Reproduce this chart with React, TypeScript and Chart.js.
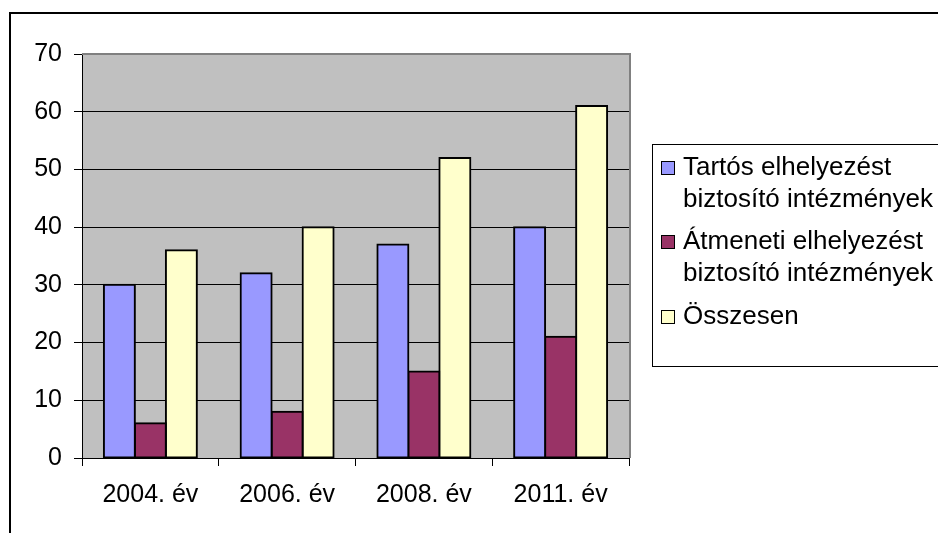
import React, { useEffect, useRef } from 'react';
import { Chart, registerables } from 'chart.js';

Chart.register(...registerables);

const categories = ['2004. év', '2006. év', '2008. év', '2011. év'];
const tartos = [30, 32, 37, 40];
const atmeneti = [6, 8, 15, 21];
const osszesen = [36, 40, 52, 61];
const seriesLines = [
  ['Tartós elhelyezést', 'biztosító intézmények'],
  ['Átmeneti elhelyezést', 'biztosító intézmények'],
  ['Összesen'],
];
const seriesColors = ['#9999FF', '#993366', '#FFFFCC'];
const yMin = 0;
const yMax = 70;
const yStep = 10;

const FONT = '"Liberation Sans", Arial, sans-serif';
const W = 938;
const H = 533;

const framePlugin = {
  id: 'frame',
  beforeDraw(chart: any) {
    const { ctx, chartArea: a } = chart;
    ctx.save();
    ctx.fillStyle = '#ffffff';
    ctx.fillRect(0, 0, chart.width, chart.height);
    ctx.fillStyle = '#C0C0C0';
    ctx.fillRect(a.left, a.top, a.right - a.left, a.bottom - a.top);
    ctx.strokeStyle = '#000000';
    ctx.lineWidth = 2;
    ctx.beginPath();
    ctx.moveTo(10, chart.height + 5);
    ctx.lineTo(10, 13);
    ctx.lineTo(chart.width + 5, 13);
    ctx.stroke();
    ctx.restore();
  },
  afterDraw(chart: any) {
    const { ctx, chartArea: a } = chart;
    ctx.save();
    // plot-area border (top / right)
    ctx.strokeStyle = '#808080';
    ctx.lineWidth = 2;
    ctx.beginPath();
    ctx.moveTo(a.left, a.top);
    ctx.lineTo(a.right + 1, a.top);
    ctx.lineTo(a.right + 1, a.bottom);
    ctx.stroke();

    // legend
    const bx = 652.5;
    const by = 144.5;
    const bh = 222;
    ctx.strokeStyle = '#000000';
    ctx.lineWidth = 1;
    ctx.strokeRect(bx, by, chart.width - bx + 10, bh);

    ctx.font = `26px ${FONT}`;
    ctx.textBaseline = 'alphabetic';
    ctx.textAlign = 'left';
    const firstBase = 174.5;
    const itemGap = 74.5;
    const lineGap = 32;
    chart.data.datasets.forEach((ds: any, i: number) => {
      const base = Math.round(firstBase + i * itemGap);
      ctx.fillStyle = ds.backgroundColor;
      ctx.fillRect(661, base - 14, 14, 14);
      ctx.strokeStyle = '#000000';
      ctx.lineWidth = 1;
      ctx.strokeRect(661.5, base - 13.5, 13, 13);
      ctx.fillStyle = '#000000';
      const lines: string[] = seriesLines[i];
      lines.forEach((t, j) => {
        ctx.fillText(t, 683, base + j * lineGap);
      });
    });
    ctx.restore();
  },
};

export default function App() {
  const ref = useRef<HTMLCanvasElement | null>(null);

  useEffect(() => {
    if (!ref.current) return;
    const datasets = [tartos, atmeneti, osszesen].map((data, i) => ({
      label: seriesLines[i].join(' '),
      data,
      backgroundColor: seriesColors[i],
      borderColor: '#000000',
      borderWidth: 2,
      borderSkipped: false,
      inflateAmount: 1,
      categoryPercentage: 0.68,
      barPercentage: 1,
    }));
    const chart = new Chart(ref.current, {
      type: 'bar',
      data: { labels: categories, datasets },
      plugins: [framePlugin],
      options: {
        responsive: false,
        animation: false,
        devicePixelRatio: 1,
        layout: { padding: { top: 54, right: 309, left: 0, bottom: 0 } },
        plugins: {
          legend: { display: false },
          tooltip: { enabled: false },
        },
        scales: {
          x: {
            offset: true,
            grid: {
              offset: true,
              drawOnChartArea: false,
              drawTicks: true,
              tickLength: 8,
              tickColor: '#000000',
              color: '#000000',
            },
            border: { display: true, color: '#000000', width: 1 },
            ticks: {
              color: '#000000',
              font: { family: FONT, size: 25 },
              padding: 14,
              maxRotation: 0,
              autoSkip: false,
            },
            afterFit(scale: any) {
              scale.height = 75;
            },
          },
          y: {
            min: yMin,
            max: yMax,
            ticks: {
              stepSize: yStep,
              color: '#000000',
              font: { family: FONT, size: 25 },
              padding: 12,
            },
            grid: {
              color: (ctx: any) => (ctx.tick && ctx.tick.value === yMax ? 'rgba(0,0,0,0)' : '#000000'),
              lineWidth: 1,
              tickLength: 8,
              tickColor: '#000000',
            },
            border: { display: true, color: '#000000', width: 1 },
            afterFit(scale: any) {
              scale.width = 82;
            },
          },
        },
      },
    });
    return () => chart.destroy();
  }, []);

  return (
    <div style={{ position: 'absolute', left: 0, top: 0, width: W, height: H }}>
      <canvas ref={ref} width={W} height={H} style={{ display: 'block', width: W, height: H }} />
    </div>
  );
}
